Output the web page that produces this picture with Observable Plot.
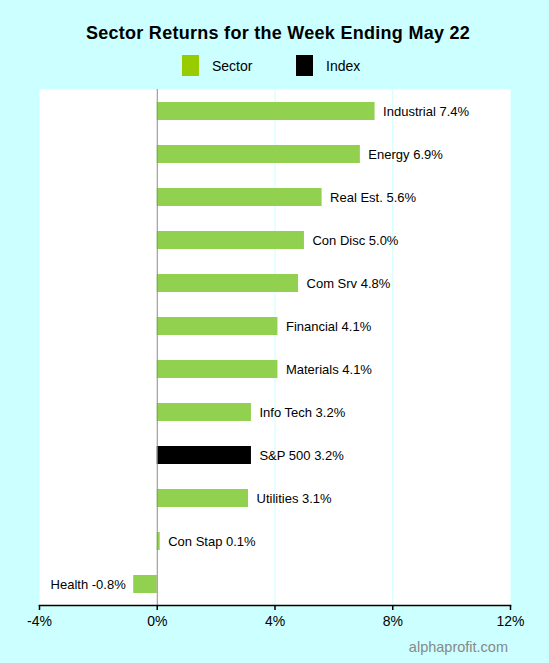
<!DOCTYPE html>
<html>
<head>
<meta charset="utf-8">
<script src="https://cdn.jsdelivr.net/npm/d3@7"></script>
<script src="https://cdn.jsdelivr.net/npm/@observablehq/plot@0.6"></script>
<style>
  html, body { margin: 0; padding: 0; }
  body { width: 549px; height: 663px; background: #ccffff; position: relative; overflow: hidden;
         font-family: Arial, "Liberation Sans", sans-serif; color: #000; }
  .abs { position: absolute; white-space: nowrap; }
  #title { left: 0; width: 556px; top: 23px; text-align: center; font-weight: bold; font-size: 18px; line-height: 20px; letter-spacing: 0.28px; }
  .sw { width: 17px; height: 21px; top: 55px; }
  .lt { top: 58px; font-size: 14px; line-height: 16px; }
  #footer { right: 41px; top: 639px; font-size: 14.5px; line-height: 16px; color: #888; }
  #chart { left: 0; top: 80px; }
</style>
</head>
<body>
<div id="title" class="abs">Sector Returns for the Week Ending May 22</div>
<div class="abs sw" style="left:182px; background:#99cc00"></div>
<div class="abs lt" style="left:212px">Sector</div>
<div class="abs sw" style="left:296px; background:#000"></div>
<div class="abs lt" style="left:326px">Index</div>
<div id="chart" class="abs"></div>
<div id="footer" class="abs">alphaprofit.com</div>
<script>
const names = ["Industrial", "Energy", "Real Est.", "Con Disc", "Com Srv", "Financial", "Materials", "Info Tech", "S&P 500", "Utilities", "Con Stap", "Health"];
const values = [7.4, 6.9, 5.6, 5.0, 4.8, 4.1, 4.1, 3.2, 3.2, 3.1, 0.1, -0.8];
const types = ["Sector", "Sector", "Sector", "Sector", "Sector", "Sector", "Sector", "Sector", "Index", "Sector", "Sector", "Sector"];
const xTicks = [-4, 0, 4, 8, 12];

const data = names.map((n, i) => ({name: n, value: values[i], type: types[i]}));
const label = d => `${d.name} ${d.value.toFixed(1)}%`;

const plot = Plot.plot({
  width: 549,
  height: 583,
  marginTop: 9,
  marginBottom: 58,
  marginLeft: 39,
  marginRight: 39,
  style: {background: "transparent", fontFamily: "Arial, 'Liberation Sans', sans-serif", fontSize: "14px", color: "#000"},
  x: {domain: [-4, 12], axis: null},
  y: {domain: names, paddingInner: 0.582, paddingOuter: 0.291, axis: null},
  color: {domain: ["Sector", "Index"], range: ["#92d050", "#000000"]},
  marks: [
    Plot.frame({fill: "white", stroke: null}),
    Plot.ruleX([4, 8], {stroke: "#ccffff", strokeWidth: 1}),
    Plot.barX(data, {x: "value", y: "name", fill: "type"}),
    Plot.ruleX([0], {stroke: "#8c8c8c", strokeWidth: 1}),
    Plot.text(data.filter(d => d.value >= 0), {x: "value", y: "name", text: label, textAnchor: "start", dx: 8, fontSize: 13}),
    Plot.text(data.filter(d => d.value < 0), {x: "value", y: "name", text: label, textAnchor: "end", dx: -8, fontSize: 13}),
    Plot.frame({anchor: "bottom", stroke: "black", strokeWidth: 1.5}),
    Plot.axisX({ticks: xTicks, tickFormat: d => d + "%", tickSize: 5, tickPadding: 6, fontSize: 14, label: null, stroke: "black", strokeWidth: 1.5})
  ]
});
document.getElementById("chart").appendChild(plot);
</script>
</body>
</html>
